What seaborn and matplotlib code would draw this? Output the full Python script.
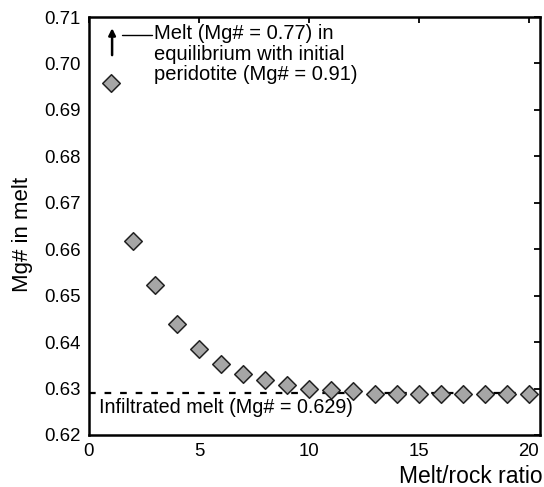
import matplotlib
matplotlib.use("Agg")
import matplotlib.pyplot as plt
import seaborn as sns
import pandas as pd

ratio = list(range(1, 21))
mg_melt = [0.6957, 0.6617, 0.6522, 0.6438, 0.6386, 0.6353, 0.6331, 0.6318, 0.6307,
           0.6300, 0.6297, 0.6294, 0.6289, 0.6289, 0.6288, 0.6288, 0.6288, 0.6288, 0.6288, 0.6288]
infiltrated = 0.629
x_ticks = [0, 5, 10, 15, 20]
y_ticks = [0.62, 0.63, 0.64, 0.65, 0.66, 0.67, 0.68, 0.69, 0.70, 0.71]

sns.set_theme(style="white")
plt.rcParams['font.family'] = ['Liberation Sans', 'DejaVu Sans']
plt.rcParams['text.color'] = 'black'
plt.rcParams['axes.labelcolor'] = 'black'

fig = plt.figure(figsize=(5.44, 4.87), dpi=100)
ax = fig.add_axes([0.1636, 0.1068, 0.8290, 0.8582])

df = pd.DataFrame({"ratio": ratio, "mg": mg_melt})
ax.axhline(infiltrated, color="black", ls=(0, (3, 4)), lw=1.6, zorder=1)
sns.scatterplot(data=df, x="ratio", y="mg", marker="D", s=80, color="#a6a6a6",
                edgecolor="#222222", linewidth=1.1, ax=ax, zorder=3)

ax.set_xlim(0, 20.5)
ax.set_ylim(0.62, 0.71)
ax.set_xticks(x_ticks)
ax.set_yticks(y_ticks)
ax.set_yticklabels([f"{v:.2f}" for v in y_ticks])
ax.tick_params(direction="in", length=4, width=1.3, top=True, right=True,
               labelsize=13.4, colors="black", pad=6)
for s in ax.spines.values():
    s.set_color("black")
    s.set_linewidth(1.8)

ax.set_xlabel("")
ax.set_ylabel("Mg# in melt", fontsize=16, color="black")
ax.yaxis.set_label_coords(-0.125, 0.48)
fig.text(0.997, 0.008, "Melt/rock ratio", ha="right", va="baseline", fontsize=16.5, color="black")

ax.annotate("", xy=(1.05, 0.7082), xytext=(1.05, 0.7012),
            arrowprops=dict(arrowstyle="-|>", color="black", lw=1.8, mutation_scale=10))
ax.plot([1.5, 2.85], [0.7062, 0.7062], color="black", lw=1.0)
ax.text(2.95, 0.7084, "Melt (Mg# = 0.77) in\nequilibrium with initial\nperidotite (Mg# = 0.91)",
        ha="left", va="top", fontsize=14.5, linespacing=1.1, color="black")
ax.text(0.45, 0.6259, "Infiltrated melt (Mg# = 0.629)", ha="left", va="center",
        fontsize=14.2, color="black")

fig.savefig("out.png", dpi=100)
